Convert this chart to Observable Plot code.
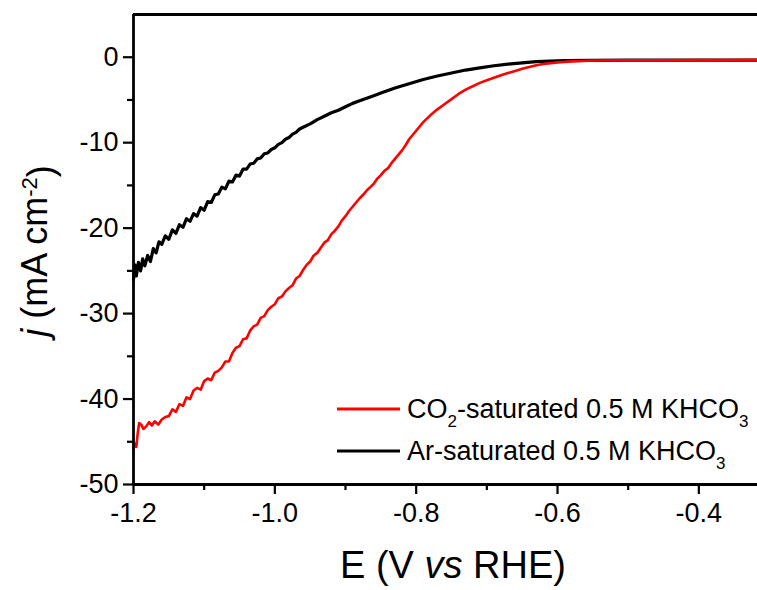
<!DOCTYPE html>
<html>
<head>
<meta charset="utf-8">
<script src="https://cdn.jsdelivr.net/npm/d3@7"></script>
<script src="https://cdn.jsdelivr.net/npm/@observablehq/plot@0.6"></script>
<style>
  html, body { margin: 0; padding: 0; background: #fff; }
  #chart { width: 757px; height: 590px; }
</style>
</head>
<body>
<div id="chart"></div>
<script>
// ---- data ----
const xMajorTicks = [-1.2, -1.0, -0.8, -0.6, -0.4];
const xMinorTicks = [-1.1, -0.9, -0.7, -0.5];
const yMajorTicks = [0, -10, -20, -30, -40, -50];
const yMinorTicks = [-5, -15, -25, -35, -45];

const seriesColors = ["#ff0000", "#000000"];

// Ar-saturated (black)
const arE = [-1.200,-1.198,-1.196,-1.193,-1.190,-1.187,-1.184,-1.180,-1.176,-1.172,-1.168,-1.164,-1.160,-1.155,-1.150,-1.145,-1.140,-1.135,-1.130,-1.125,-1.120,-1.115,-1.110,-1.105,-1.100,-1.095,-1.090,-1.085,-1.080,-1.075,-1.070,-1.065,-1.060,-1.055,-1.050,-1.045,-1.040,-1.035,-1.030,-1.025,-1.020,-1.015,-1.010,-1.005,-1.000,-0.995,-0.990,-0.985,-0.980,-0.975,-0.970,-0.965,-0.960,-0.950,-0.940,-0.930,-0.920,-0.910,-0.900,-0.890,-0.880,-0.870,-0.860,-0.850,-0.830,-0.810,-0.790,-0.770,-0.750,-0.730,-0.710,-0.690,-0.670,-0.650,-0.630,-0.610,-0.590,-0.550,-0.500,-0.450,-0.400,-0.350,-0.317];
const arJ = [-26.0,-24.3,-25.6,-24.0,-25.0,-23.6,-24.4,-23.2,-23.9,-22.4,-22.9,-21.6,-21.9,-20.9,-21.3,-20.2,-20.6,-19.6,-19.9,-18.9,-19.2,-18.3,-18.6,-17.6,-17.9,-16.9,-17.0,-16.1,-16.0,-15.2,-15.4,-14.5,-14.6,-13.8,-13.9,-13.1,-13.1,-12.5,-12.4,-11.9,-11.8,-11.3,-11.2,-10.8,-10.6,-10.2,-10.0,-9.6,-9.4,-9.0,-8.8,-8.4,-8.2,-7.8,-7.3,-6.9,-6.5,-6.2,-5.8,-5.4,-5.1,-4.8,-4.5,-4.2,-3.6,-3.1,-2.6,-2.2,-1.85,-1.5,-1.25,-1.0,-0.8,-0.65,-0.52,-0.45,-0.40,-0.36,-0.35,-0.35,-0.35,-0.35,-0.35];

// CO2-saturated (red)
const co2E = [-1.200,-1.198,-1.196,-1.194,-1.192,-1.189,-1.186,-1.182,-1.178,-1.174,-1.170,-1.165,-1.160,-1.155,-1.150,-1.145,-1.140,-1.135,-1.130,-1.125,-1.120,-1.115,-1.110,-1.105,-1.100,-1.095,-1.090,-1.085,-1.080,-1.075,-1.070,-1.065,-1.060,-1.055,-1.050,-1.045,-1.040,-1.035,-1.030,-1.025,-1.020,-1.015,-1.010,-1.005,-1.000,-0.995,-0.990,-0.985,-0.980,-0.975,-0.970,-0.965,-0.960,-0.955,-0.950,-0.945,-0.940,-0.935,-0.930,-0.925,-0.920,-0.915,-0.910,-0.905,-0.900,-0.895,-0.890,-0.885,-0.880,-0.875,-0.870,-0.865,-0.860,-0.855,-0.850,-0.845,-0.840,-0.835,-0.830,-0.825,-0.820,-0.815,-0.810,-0.800,-0.790,-0.780,-0.770,-0.760,-0.750,-0.740,-0.730,-0.720,-0.710,-0.700,-0.690,-0.680,-0.670,-0.660,-0.650,-0.640,-0.630,-0.620,-0.610,-0.600,-0.580,-0.560,-0.540,-0.500,-0.450,-0.400,-0.350,-0.317];
const co2J = [-45.8,-45.2,-45.6,-44.0,-42.8,-43.0,-43.5,-43.2,-42.7,-43.1,-42.6,-43.0,-42.4,-42.1,-42.0,-41.2,-41.5,-40.6,-40.8,-39.8,-40.0,-39.0,-38.7,-38.9,-37.9,-37.6,-37.8,-36.9,-36.7,-36.3,-35.6,-35.6,-34.6,-34.0,-33.8,-33.0,-32.9,-32.0,-31.5,-31.3,-30.5,-30.3,-29.6,-29.2,-28.9,-28.2,-28.0,-27.4,-27.0,-26.7,-25.9,-25.6,-24.9,-24.3,-23.9,-23.2,-22.9,-22.3,-21.7,-21.4,-20.7,-20.3,-19.8,-19.1,-18.6,-18.0,-17.5,-17.0,-16.5,-16.1,-15.6,-15.2,-14.8,-14.2,-13.8,-13.3,-13.0,-12.4,-11.9,-11.4,-10.9,-10.3,-9.6,-8.6,-7.6,-6.8,-6.1,-5.5,-4.9,-4.3,-3.8,-3.4,-3.0,-2.7,-2.4,-2.1,-1.85,-1.6,-1.35,-1.15,-0.95,-0.8,-0.7,-0.6,-0.48,-0.42,-0.38,-0.36,-0.35,-0.34,-0.32,-0.30];

const arData = arE.map((e, i) => ({E: e, j: arJ[i]}));
const co2Data = co2E.map((e, i) => ({E: e, j: co2J[i]}));

const fmtX = d => d.toFixed(1);
const fmtY = d => String(d);

const FONT = "'Liberation Sans', Arial, Helvetica, sans-serif";

const plot = Plot.plot({
  width: 757,
  height: 590,
  marginLeft: 133,
  marginRight: 0,
  marginTop: 14,
  marginBottom: 106,
  style: {fontFamily: FONT, fontSize: "27px", color: "#000", background: "#fff", overflow: "visible"},
  x: {domain: [-1.2, -0.317], label: null},
  y: {domain: [-50, 5], label: null},
  marks: [
    Plot.axisX({ticks: xMajorTicks, tickSize: 10, tickPadding: 8, tickFormat: fmtX, strokeWidth: 2.2, label: null}),
    Plot.axisX({ticks: xMinorTicks, tickSize: 6, tickFormat: () => "", strokeWidth: 2.2, label: null}),
    Plot.axisY({ticks: yMajorTicks, tickSize: 10, tickPadding: 5, tickFormat: fmtY, strokeWidth: 2.2, label: null}),
    Plot.axisY({ticks: yMinorTicks, tickSize: 6, tickFormat: () => "", strokeWidth: 2.2, label: null}),
    Plot.line(arData, {x: "E", y: "j", stroke: seriesColors[1], strokeWidth: 3.2}),
    Plot.line(co2Data, {x: "E", y: "j", stroke: seriesColors[0], strokeWidth: 2.6}),
    Plot.ruleY([5], {stroke: "#000", strokeWidth: 2.8}),
    Plot.ruleY([-50], {stroke: "#000", strokeWidth: 2.8}),
    Plot.ruleX([-1.2], {stroke: "#000", strokeWidth: 2.8})
  ]
});

document.getElementById("chart").appendChild(plot);

// ---- titles and legend (text with italics / sub- and superscripts) ----
const svg = d3.select(plot);

// x-axis title
const xt = svg.append("text")
  .attr("x", 453).attr("y", 578)
  .attr("text-anchor", "middle")
  .style("font-family", FONT).style("font-size", "38px").attr("fill", "#000");
xt.append("tspan").text("E (V ");
xt.append("tspan").style("font-style", "italic").text("vs");
xt.append("tspan").text(" RHE)");

// y-axis title
const yt = svg.append("text")
  .attr("transform", "translate(47,251) rotate(-90)")
  .attr("text-anchor", "middle")
  .style("font-family", FONT).style("font-size", "36px").attr("fill", "#000");
yt.append("tspan").style("font-style", "italic").text("j");
yt.append("tspan").text(" (mA cm");
yt.append("tspan").attr("dy", "-0.45em").style("font-size", "22px").text("-2");
yt.append("tspan").attr("dy", "0.45em").text(")");

// legend
const legendItems = [
  {parts: [["CO", 0], ["2", 1], ["-saturated 0.5 M KHCO", 0], ["3", 1]], color: seriesColors[0], y: 409},
  {parts: [["Ar-saturated 0.5 M KHCO", 0], ["3", 1]], color: seriesColors[1], y: 451}
];
legendItems.forEach(it => {
  svg.append("line").attr("x1", 337).attr("x2", 400).attr("y1", it.y).attr("y2", it.y)
    .attr("stroke", it.color).attr("stroke-width", 2.8);
  const t = svg.append("text").attr("x", 407).attr("y", it.y + 9)
    .attr("text-anchor", "start")
    .style("font-family", FONT).style("font-size", "27px").attr("fill", "#000");
  let sub = false;
  it.parts.forEach(([s, isSub]) => {
    const ts = t.append("tspan").text(s);
    if (isSub && !sub) { ts.attr("dy", "9").style("font-size", "17px"); sub = true; }
    else if (!isSub && sub) { ts.attr("dy", "-9"); sub = false; }
  });
});
</script>
</body>
</html>
